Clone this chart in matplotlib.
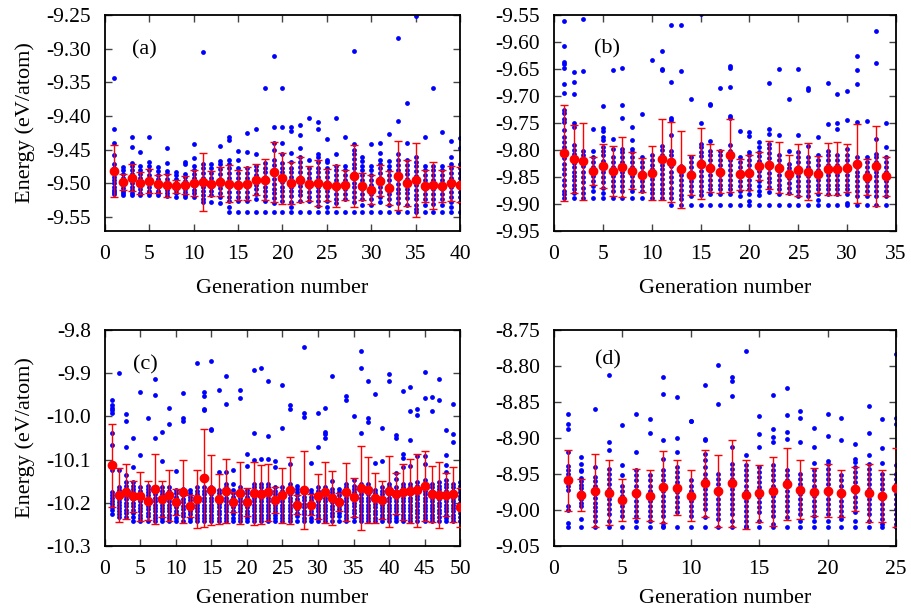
import matplotlib
matplotlib.use("Agg")
import matplotlib.pyplot as plt
from matplotlib.ticker import FormatStrFormatter

plt.rcParams['font.family'] = ['Liberation Serif', 'DejaVu Serif']
plt.rcParams['axes.unicode_minus'] = False

# ---------------- Panel (a) ----------------
gens_a = list(range(1, 41))
mean_a = [-9.4815, -9.498, -9.492, -9.500, -9.497, -9.501, -9.503, -9.5045, -9.5025, -9.4995,
          -9.4985, -9.5005, -9.4975, -9.5005, -9.5025, -9.5005, -9.4945, -9.4945, -9.4835, -9.4925,
          -9.500, -9.4945, -9.5005, -9.500, -9.503, -9.5045, -9.503, -9.489, -9.5045, -9.5095,
          -9.4965, -9.5075, -9.4885, -9.500, -9.4955, -9.5045, -9.503, -9.5045, -9.500, -9.502]
err_a = [0.039, 0.012, 0.020, 0.016, 0.018, 0.013, 0.017, 0.010, 0.014, 0.019,
         0.043, 0.018, 0.022, 0.027, 0.022, 0.025, 0.023, 0.031, 0.045, 0.038,
         0.031, 0.033, 0.026, 0.034, 0.024, 0.031, 0.022, 0.046, 0.020, 0.022,
         0.023, 0.025, 0.051, 0.034, 0.055, 0.024, 0.035, 0.024, 0.026, 0.026]
energies_a = [
    [-9.343, -9.420, -9.440, -9.458, -9.472, -9.478, -9.484, -9.490, -9.495, -9.500, -9.505, -9.510, -9.513, -9.516],
    [-9.476, -9.481, -9.487, -9.492, -9.497, -9.502, -9.507, -9.512, -9.515, -9.517],
    [-9.431, -9.446, -9.470, -9.475, -9.481, -9.487, -9.493, -9.499, -9.505, -9.510, -9.514, -9.517],
    [-9.453, -9.475, -9.480, -9.486, -9.492, -9.498, -9.504, -9.509, -9.514, -9.517],
    [-9.432, -9.469, -9.475, -9.481, -9.488, -9.494, -9.500, -9.506, -9.511, -9.515, -9.517],
    [-9.476, -9.482, -9.488, -9.494, -9.500, -9.506, -9.511, -9.515, -9.517],
    [-9.447, -9.470, -9.482, -9.487, -9.493, -9.499, -9.505, -9.510, -9.515, -9.519],
    [-9.483, -9.488, -9.494, -9.500, -9.505, -9.510, -9.515, -9.520],
    [-9.469, -9.471, -9.486, -9.491, -9.497, -9.503, -9.508, -9.513, -9.517, -9.520],
    [-9.441, -9.462, -9.475, -9.480, -9.486, -9.492, -9.498, -9.504, -9.510, -9.515, -9.520],
    [-9.305, -9.472, -9.478, -9.485, -9.492, -9.499, -9.506, -9.512, -9.518, -9.523, -9.528],
    [-9.472, -9.478, -9.485, -9.492, -9.499, -9.506, -9.512, -9.518, -9.528],
    [-9.444, -9.467, -9.472, -9.479, -9.486, -9.493, -9.500, -9.507, -9.514, -9.520, -9.529],
    [-9.431, -9.436, -9.465, -9.471, -9.478, -9.485, -9.492, -9.499, -9.506, -9.513, -9.520, -9.527, -9.535, -9.542],
    [-9.452, -9.466, -9.478, -9.485, -9.492, -9.499, -9.506, -9.513, -9.520, -9.527, -9.542],
    [-9.426, -9.453, -9.478, -9.485, -9.492, -9.499, -9.506, -9.513, -9.520, -9.526, -9.542],
    [-9.420, -9.456, -9.474, -9.481, -9.488, -9.495, -9.502, -9.509, -9.516, -9.523, -9.542],
    [-9.359, -9.470, -9.477, -9.484, -9.491, -9.498, -9.505, -9.512, -9.519, -9.526, -9.542],
    [-9.311, -9.416, -9.440, -9.450, -9.466, -9.473, -9.480, -9.487, -9.494, -9.501, -9.508, -9.515, -9.522, -9.530, -9.542],
    [-9.359, -9.417, -9.440, -9.456, -9.470, -9.477, -9.484, -9.491, -9.498, -9.505, -9.512, -9.519, -9.527, -9.542],
    [-9.416, -9.422, -9.455, -9.469, -9.477, -9.484, -9.491, -9.498, -9.505, -9.512, -9.519, -9.528, -9.536, -9.542],
    [-9.413, -9.429, -9.448, -9.461, -9.469, -9.476, -9.483, -9.490, -9.497, -9.504, -9.511, -9.518, -9.526, -9.542],
    [-9.403, -9.466, -9.478, -9.485, -9.492, -9.499, -9.506, -9.513, -9.520, -9.527, -9.542],
    [-9.409, -9.420, -9.457, -9.461, -9.469, -9.477, -9.484, -9.491, -9.498, -9.505, -9.512, -9.519, -9.526, -9.534, -9.542],
    [-9.434, -9.466, -9.469, -9.477, -9.484, -9.491, -9.498, -9.505, -9.512, -9.519, -9.527, -9.535, -9.542],
    [-9.403, -9.457, -9.474, -9.481, -9.488, -9.495, -9.502, -9.509, -9.516, -9.523, -9.530, -9.542],
    [-9.432, -9.474, -9.481, -9.488, -9.495, -9.502, -9.509, -9.516, -9.524, -9.542],
    [-9.304, -9.442, -9.450, -9.457, -9.464, -9.471, -9.478, -9.485, -9.492, -9.499, -9.506, -9.513, -9.520, -9.528, -9.542],
    [-9.461, -9.467, -9.474, -9.481, -9.488, -9.495, -9.502, -9.509, -9.516, -9.524, -9.533, -9.542],
    [-9.442, -9.474, -9.481, -9.488, -9.495, -9.502, -9.509, -9.516, -9.523, -9.532, -9.542],
    [-9.440, -9.455, -9.466, -9.471, -9.478, -9.485, -9.492, -9.499, -9.506, -9.513, -9.520, -9.528, -9.542],
    [-9.427, -9.467, -9.474, -9.481, -9.488, -9.495, -9.502, -9.509, -9.516, -9.523, -9.532, -9.542],
    [-9.284, -9.408, -9.457, -9.466, -9.473, -9.480, -9.487, -9.494, -9.501, -9.508, -9.515, -9.522, -9.530, -9.542],
    [-9.381, -9.440, -9.466, -9.473, -9.480, -9.487, -9.494, -9.501, -9.508, -9.515, -9.522, -9.532, -9.542],
    [-9.252, -9.461, -9.468, -9.475, -9.482, -9.489, -9.496, -9.503, -9.510, -9.517, -9.524, -9.532, -9.538, -9.542],
    [-9.431, -9.474, -9.481, -9.488, -9.495, -9.502, -9.509, -9.516, -9.524, -9.533, -9.542],
    [-9.359, -9.474, -9.481, -9.488, -9.495, -9.502, -9.509, -9.516, -9.523, -9.531, -9.542],
    [-9.424, -9.474, -9.481, -9.488, -9.495, -9.502, -9.509, -9.516, -9.523, -9.532, -9.542],
    [-9.437, -9.461, -9.471, -9.478, -9.485, -9.492, -9.499, -9.506, -9.513, -9.520, -9.528, -9.536, -9.542],
    [-9.433, -9.448, -9.471, -9.478, -9.485, -9.492, -9.499, -9.506, -9.513, -9.520, -9.528, -9.542],
]

# ---------------- Panel (b) ----------------
gens_b = list(range(1, 35))
mean_b = [-9.806, -9.816, -9.821, -9.839, -9.829, -9.839, -9.831, -9.838, -9.846, -9.842,
          -9.817, -9.822, -9.836, -9.846, -9.825, -9.833, -9.840, -9.810, -9.845, -9.842,
          -9.830, -9.828, -9.833, -9.845, -9.837, -9.840, -9.845, -9.835, -9.835, -9.833,
          -9.825, -9.850, -9.830, -9.849]
err_b = [0.089, 0.063, 0.071, 0.026, 0.041, 0.047, 0.056, 0.034, 0.031, 0.050,
         0.075, 0.074, 0.071, 0.037, 0.065, 0.045, 0.040, 0.068, 0.029, 0.032,
         0.026, 0.045, 0.047, 0.036, 0.048, 0.053, 0.034, 0.048, 0.049, 0.045,
         0.073, 0.033, 0.074, 0.036]
energies_b = [
    [-9.561, -9.608, -9.637, -9.640, -9.649, -9.678, -9.694, -9.726, -9.732, -9.742, -9.748, -9.763, -9.776, -9.785, -9.795, -9.805, -9.815, -9.825, -9.835, -9.845, -9.855, -9.865, -9.875, -9.882, -9.889],
    [-9.655, -9.674, -9.697, -9.750, -9.757, -9.790, -9.800, -9.808, -9.816, -9.824, -9.832, -9.840, -9.848, -9.856, -9.864, -9.872, -9.880, -9.889],
    [-9.558, -9.653, -9.802, -9.810, -9.820, -9.830, -9.840, -9.850, -9.860, -9.870, -9.880, -9.889],
    [-9.762, -9.801, -9.813, -9.822, -9.831, -9.840, -9.849, -9.858, -9.867, -9.876, -9.889],
    [-9.719, -9.759, -9.765, -9.775, -9.781, -9.795, -9.801, -9.810, -9.820, -9.830, -9.840, -9.850, -9.860, -9.870, -9.880, -9.889],
    [-9.652, -9.779, -9.798, -9.813, -9.822, -9.831, -9.840, -9.849, -9.858, -9.867, -9.876, -9.889],
    [-9.648, -9.716, -9.740, -9.798, -9.804, -9.813, -9.822, -9.831, -9.840, -9.849, -9.858, -9.867, -9.876, -9.889],
    [-9.757, -9.782, -9.798, -9.804, -9.813, -9.822, -9.831, -9.840, -9.849, -9.858, -9.867, -9.876, -9.889],
    [-9.733, -9.813, -9.822, -9.831, -9.840, -9.849, -9.858, -9.867, -9.876, -9.889],
    [-9.634, -9.810, -9.818, -9.827, -9.836, -9.845, -9.854, -9.863, -9.872, -9.880, -9.889],
    [-9.616, -9.650, -9.652, -9.793, -9.800, -9.809, -9.818, -9.827, -9.836, -9.845, -9.854, -9.863, -9.872, -9.880, -9.889],
    [-9.568, -9.674, -9.741, -9.744, -9.773, -9.801, -9.810, -9.820, -9.830, -9.840, -9.850, -9.860, -9.870, -9.880, -9.889, -9.901],
    [-9.568, -9.653, -9.829, -9.838, -9.847, -9.856, -9.865, -9.874, -9.883, -9.890, -9.901],
    [-9.705, -9.813, -9.822, -9.831, -9.840, -9.849, -9.858, -9.867, -9.876, -9.885, -9.901],
    [-9.549, -9.750, -9.788, -9.794, -9.803, -9.812, -9.821, -9.830, -9.839, -9.848, -9.857, -9.866, -9.875, -9.884, -9.901],
    [-9.714, -9.716, -9.783, -9.801, -9.810, -9.819, -9.828, -9.837, -9.846, -9.855, -9.864, -9.873, -9.882, -9.901],
    [-9.686, -9.801, -9.810, -9.819, -9.828, -9.837, -9.846, -9.855, -9.864, -9.873, -9.882, -9.901],
    [-9.645, -9.648, -9.683, -9.737, -9.740, -9.791, -9.801, -9.810, -9.819, -9.828, -9.837, -9.846, -9.855, -9.864, -9.873, -9.882, -9.901],
    [-9.765, -9.813, -9.822, -9.831, -9.840, -9.849, -9.858, -9.867, -9.876, -9.885, -9.901],
    [-9.767, -9.774, -9.804, -9.810, -9.819, -9.828, -9.837, -9.846, -9.855, -9.864, -9.873, -9.882, -9.895, -9.901],
    [-9.785, -9.794, -9.803, -9.812, -9.821, -9.830, -9.839, -9.848, -9.857, -9.866, -9.875, -9.884, -9.901],
    [-9.676, -9.762, -9.771, -9.788, -9.797, -9.806, -9.815, -9.824, -9.833, -9.842, -9.851, -9.860, -9.869, -9.878, -9.901],
    [-9.650, -9.773, -9.810, -9.819, -9.828, -9.837, -9.846, -9.855, -9.864, -9.873, -9.882, -9.901],
    [-9.705, -9.801, -9.825, -9.834, -9.843, -9.852, -9.861, -9.870, -9.879, -9.901],
    [-9.650, -9.772, -9.804, -9.813, -9.822, -9.831, -9.840, -9.849, -9.858, -9.867, -9.876, -9.885, -9.901],
    [-9.685, -9.688, -9.792, -9.813, -9.822, -9.831, -9.840, -9.849, -9.858, -9.867, -9.876, -9.885, -9.901],
    [-9.776, -9.810, -9.819, -9.828, -9.837, -9.846, -9.855, -9.864, -9.873, -9.882, -9.892, -9.901],
    [-9.675, -9.751, -9.801, -9.810, -9.819, -9.828, -9.837, -9.846, -9.855, -9.864, -9.873, -9.882, -9.901],
    [-9.696, -9.750, -9.762, -9.810, -9.819, -9.828, -9.837, -9.846, -9.855, -9.864, -9.873, -9.882, -9.901],
    [-9.691, -9.744, -9.798, -9.810, -9.819, -9.828, -9.837, -9.846, -9.855, -9.864, -9.873, -9.882, -9.899, -9.901],
    [-9.626, -9.652, -9.678, -9.748, -9.813, -9.822, -9.831, -9.840, -9.849, -9.858, -9.867, -9.876, -9.885, -9.901],
    [-9.746, -9.813, -9.822, -9.831, -9.840, -9.849, -9.858, -9.867, -9.876, -9.885, -9.901],
    [-9.579, -9.639, -9.779, -9.807, -9.813, -9.822, -9.831, -9.840, -9.849, -9.858, -9.867, -9.876, -9.885, -9.901],
    [-9.750, -9.794, -9.813, -9.822, -9.831, -9.840, -9.849, -9.858, -9.867, -9.876, -9.885, -9.901],
]

# ---------------- Panel (c) ----------------
gens_c = list(range(1, 51))
mean_c = [-10.113, -10.182, -10.174, -10.185, -10.185, -10.195, -10.169, -10.191, -10.183, -10.198,
          -10.174, -10.207, -10.191, -10.142, -10.171, -10.191, -10.173, -10.198, -10.178, -10.198,
          -10.178, -10.180, -10.176, -10.193, -10.183, -10.171, -10.205, -10.171, -10.204, -10.185,
          -10.176, -10.189, -10.198, -10.174, -10.187, -10.166, -10.171, -10.189, -10.194, -10.173,
          -10.179, -10.175, -10.172, -10.171, -10.161, -10.179, -10.182, -10.181, -10.180, -10.210]
err_c = [0.096, 0.062, 0.063, 0.036, 0.056, 0.045, 0.081, 0.041, 0.058, 0.031,
         0.072, 0.026, 0.068, 0.114, 0.081, 0.057, 0.074, 0.024, 0.072, 0.032,
         0.073, 0.068, 0.066, 0.030, 0.064, 0.077, 0.022, 0.090, 0.025, 0.052,
         0.071, 0.062, 0.021, 0.067, 0.045, 0.097, 0.076, 0.058, 0.044, 0.082,
         0.048, 0.065, 0.074, 0.084, 0.080, 0.065, 0.077, 0.050, 0.064, 0.045]
energies_c = [
    [-9.962, -9.974, -9.980, -9.986, -9.992, -10.038, -10.067, -10.124, -10.175, -10.182, -10.189, -10.196, -10.203, -10.210, -10.217, -10.227],
    [-9.900, -10.124, -10.164, -10.171, -10.178, -10.185, -10.192, -10.199, -10.206, -10.213, -10.220, -10.227, -10.233],
    [-9.995, -10.010, -10.071, -10.135, -10.152, -10.160, -10.168, -10.176, -10.184, -10.192, -10.200, -10.208, -10.216, -10.224, -10.233],
    [-10.049, -10.116, -10.152, -10.160, -10.168, -10.176, -10.184, -10.192, -10.200, -10.208, -10.216, -10.224, -10.232, -10.241],
    [-9.944, -10.090, -10.164, -10.172, -10.180, -10.188, -10.196, -10.204, -10.212, -10.220, -10.228, -10.234, -10.241],
    [-10.003, -10.160, -10.167, -10.175, -10.183, -10.191, -10.199, -10.207, -10.215, -10.223, -10.231, -10.241],
    [-9.913, -9.950, -10.050, -10.164, -10.172, -10.180, -10.188, -10.196, -10.204, -10.212, -10.220, -10.228, -10.235, -10.241],
    [-10.037, -10.103, -10.164, -10.172, -10.180, -10.188, -10.196, -10.204, -10.212, -10.220, -10.228, -10.235, -10.241],
    [-9.981, -10.018, -10.164, -10.172, -10.180, -10.188, -10.196, -10.204, -10.212, -10.220, -10.228, -10.235, -10.241],
    [-10.127, -10.171, -10.178, -10.186, -10.194, -10.202, -10.210, -10.218, -10.226, -10.234, -10.241],
    [-9.946, -10.004, -10.010, -10.167, -10.175, -10.183, -10.191, -10.199, -10.207, -10.215, -10.223, -10.231, -10.241],
    [-10.171, -10.178, -10.186, -10.194, -10.202, -10.210, -10.218, -10.226, -10.234, -10.241],
    [-9.876, -10.164, -10.172, -10.180, -10.188, -10.196, -10.204, -10.212, -10.220, -10.228, -10.235, -10.241],
    [-9.943, -9.953, -9.983, -9.986, -10.164, -10.172, -10.180, -10.188, -10.196, -10.204, -10.212, -10.220, -10.228, -10.235, -10.241],
    [-9.872, -10.028, -10.032, -10.164, -10.172, -10.180, -10.188, -10.196, -10.204, -10.212, -10.220, -10.228, -10.235, -10.241],
    [-9.939, -10.129, -10.171, -10.178, -10.186, -10.194, -10.202, -10.210, -10.218, -10.226, -10.234, -10.241],
    [-9.907, -9.972, -10.129, -10.156, -10.164, -10.172, -10.180, -10.188, -10.196, -10.204, -10.212, -10.220, -10.228, -10.235, -10.241],
    [-10.125, -10.156, -10.171, -10.178, -10.186, -10.194, -10.202, -10.210, -10.218, -10.226, -10.234, -10.241],
    [-9.939, -9.957, -10.164, -10.172, -10.180, -10.188, -10.196, -10.204, -10.212, -10.220, -10.228, -10.235, -10.241],
    [-10.086, -10.114, -10.171, -10.178, -10.186, -10.194, -10.202, -10.210, -10.218, -10.226, -10.234, -10.241],
    [-9.893, -10.038, -10.100, -10.156, -10.164, -10.172, -10.180, -10.188, -10.196, -10.204, -10.212, -10.220, -10.228, -10.235, -10.241],
    [-9.887, -10.098, -10.156, -10.164, -10.172, -10.180, -10.188, -10.196, -10.204, -10.212, -10.220, -10.228, -10.235, -10.241],
    [-9.917, -10.046, -10.099, -10.156, -10.164, -10.172, -10.180, -10.188, -10.196, -10.204, -10.212, -10.220, -10.228, -10.235, -10.241],
    [-10.104, -10.118, -10.164, -10.172, -10.180, -10.188, -10.196, -10.204, -10.212, -10.220, -10.228, -10.235, -10.241],
    [-9.928, -10.027, -10.164, -10.172, -10.180, -10.188, -10.196, -10.204, -10.212, -10.220, -10.228, -10.235, -10.241],
    [-9.974, -9.983, -10.111, -10.156, -10.164, -10.172, -10.180, -10.188, -10.196, -10.204, -10.212, -10.220, -10.228, -10.235, -10.241],
    [-10.160, -10.167, -10.175, -10.183, -10.191, -10.199, -10.207, -10.215, -10.223, -10.231, -10.241],
    [-9.839, -9.993, -10.002, -10.171, -10.178, -10.186, -10.194, -10.202, -10.210, -10.218, -10.226, -10.234, -10.241],
    [-10.108, -10.171, -10.178, -10.186, -10.194, -10.202, -10.210, -10.218, -10.226, -10.234, -10.241],
    [-9.992, -10.071, -10.164, -10.172, -10.180, -10.188, -10.196, -10.204, -10.212, -10.220, -10.228, -10.235, -10.241],
    [-9.980, -10.035, -10.041, -10.049, -10.164, -10.172, -10.180, -10.188, -10.196, -10.204, -10.212, -10.220, -10.228, -10.235, -10.241],
    [-9.907, -10.150, -10.167, -10.175, -10.183, -10.191, -10.199, -10.207, -10.215, -10.223, -10.231, -10.241],
    [-10.167, -10.175, -10.183, -10.191, -10.199, -10.207, -10.215, -10.223, -10.231, -10.241],
    [-9.953, -9.962, -10.156, -10.164, -10.172, -10.180, -10.188, -10.196, -10.204, -10.212, -10.220, -10.228, -10.235, -10.241],
    [-9.999, -10.148, -10.160, -10.168, -10.176, -10.184, -10.192, -10.200, -10.208, -10.216, -10.224, -10.232, -10.241],
    [-9.848, -9.887, -10.038, -10.156, -10.164, -10.172, -10.180, -10.188, -10.196, -10.204, -10.212, -10.220, -10.228, -10.235, -10.241],
    [-9.917, -10.004, -10.014, -10.156, -10.164, -10.172, -10.180, -10.188, -10.196, -10.204, -10.212, -10.220, -10.228, -10.235, -10.241],
    [-9.948, -10.108, -10.171, -10.178, -10.186, -10.194, -10.202, -10.210, -10.218, -10.226, -10.234, -10.241],
    [-10.027, -10.104, -10.164, -10.172, -10.180, -10.188, -10.196, -10.204, -10.212, -10.220, -10.228, -10.235, -10.241],
    [-9.903, -9.919, -10.156, -10.164, -10.172, -10.180, -10.188, -10.196, -10.204, -10.212, -10.220, -10.228, -10.235, -10.241],
    [-10.042, -10.049, -10.130, -10.145, -10.164, -10.172, -10.180, -10.188, -10.196, -10.204, -10.212, -10.220, -10.228, -10.235, -10.241],
    [-9.941, -10.087, -10.096, -10.117, -10.156, -10.164, -10.172, -10.180, -10.188, -10.196, -10.204, -10.212, -10.220, -10.228, -10.235, -10.241],
    [-9.931, -9.988, -10.054, -10.114, -10.156, -10.164, -10.172, -10.180, -10.188, -10.196, -10.204, -10.212, -10.220, -10.228, -10.235, -10.241],
    [-9.982, -9.996, -10.092, -10.152, -10.160, -10.168, -10.176, -10.184, -10.192, -10.200, -10.208, -10.216, -10.224, -10.232, -10.241],
    [-9.898, -9.958, -10.092, -10.110, -10.148, -10.156, -10.164, -10.172, -10.180, -10.188, -10.196, -10.204, -10.212, -10.220, -10.228, -10.235, -10.241],
    [-9.956, -9.987, -10.156, -10.164, -10.172, -10.180, -10.188, -10.196, -10.204, -10.212, -10.220, -10.228, -10.235, -10.241],
    [-9.914, -9.961, -10.152, -10.160, -10.168, -10.176, -10.184, -10.192, -10.200, -10.208, -10.216, -10.224, -10.232, -10.241],
    [-10.032, -10.089, -10.113, -10.128, -10.148, -10.156, -10.164, -10.172, -10.180, -10.188, -10.196, -10.204, -10.212, -10.220, -10.228, -10.235, -10.241],
    [-9.972, -10.040, -10.059, -10.156, -10.164, -10.172, -10.180, -10.188, -10.196, -10.204, -10.212, -10.220, -10.228, -10.235, -10.241],
    [-10.152, -10.160, -10.168, -10.176, -10.184, -10.192, -10.200, -10.208, -10.216, -10.224, -10.232, -10.241],
]

# ---------------- Panel (d) ----------------
gens_d = list(range(1, 26))
mean_d = [-8.959, -8.979, -8.973, -8.976, -8.986, -8.977, -8.980, -8.968, -8.969, -8.980,
          -8.963, -8.973, -8.963, -8.979, -8.977, -8.974, -8.964, -8.972, -8.975, -8.973,
          -8.977, -8.971, -8.976, -8.981, -8.969]
err_d = [0.043, 0.022, 0.051, 0.045, 0.029, 0.034, 0.035, 0.050, 0.038, 0.035,
         0.046, 0.050, 0.060, 0.048, 0.040, 0.048, 0.050, 0.041, 0.033, 0.037,
         0.032, 0.031, 0.040, 0.036, 0.055]
energies_d = [
    [-8.867, -8.880, -8.887, -8.920, -8.939, -8.945, -8.950, -8.960, -8.966, -8.972, -8.995, -9.000, -9.018, -9.024],
    [-8.927, -8.936, -8.944, -8.946, -8.955, -8.960, -8.965, -8.970, -8.975, -8.980, -8.985, -8.990, -8.995, -9.012, -9.024],
    [-8.860, -8.940, -8.954, -8.960, -8.966, -8.972, -8.978, -8.984, -8.990, -8.996, -9.002, -9.008, -9.015, -9.024],
    [-8.813, -8.906, -8.917, -8.943, -8.950, -8.957, -8.964, -8.971, -8.978, -8.985, -8.992, -8.999, -9.006, -9.015, -9.024],
    [-8.882, -8.937, -8.952, -8.966, -8.973, -8.980, -8.987, -8.994, -9.001, -9.008, -9.024],
    [-8.867, -8.919, -8.945, -8.952, -8.959, -8.966, -8.973, -8.980, -8.987, -8.994, -9.001, -9.008, -9.015, -9.024],
    [-8.873, -8.893, -8.952, -8.959, -8.966, -8.973, -8.980, -8.987, -8.994, -9.001, -9.008, -9.015, -9.024],
    [-8.815, -8.839, -8.903, -8.929, -8.945, -8.952, -8.959, -8.966, -8.973, -8.980, -8.987, -8.994, -9.001, -9.008, -9.018, -9.022, -9.024],
    [-8.843, -8.900, -8.920, -8.940, -8.947, -8.954, -8.961, -8.968, -8.975, -8.982, -8.989, -8.996, -9.003, -9.024],
    [-8.876, -8.877, -8.959, -8.966, -8.973, -8.980, -8.987, -8.994, -9.001, -9.008, -9.024],
    [-8.826, -8.901, -8.903, -8.922, -8.930, -8.940, -8.950, -8.957, -8.964, -8.971, -8.978, -8.985, -8.992, -8.999, -9.010, -9.024],
    [-8.799, -8.853, -8.950, -8.957, -8.964, -8.971, -8.978, -8.985, -8.992, -8.999, -9.006, -9.013, -9.024],
    [-8.815, -8.821, -8.842, -8.913, -8.936, -8.943, -8.950, -8.957, -8.964, -8.971, -8.978, -8.985, -8.992, -8.999, -9.006, -9.015, -9.024],
    [-8.779, -8.923, -8.938, -8.945, -8.952, -8.959, -8.966, -8.973, -8.980, -8.987, -8.994, -9.001, -9.008, -9.015, -9.022, -9.024],
    [-8.869, -8.894, -8.912, -8.940, -8.947, -8.954, -8.961, -8.968, -8.975, -8.982, -8.989, -8.996, -9.003, -9.015, -9.024],
    [-8.840, -8.888, -8.898, -8.906, -8.938, -8.945, -8.952, -8.959, -8.966, -8.973, -8.980, -8.987, -8.994, -9.001, -9.008, -9.020, -9.024],
    [-8.830, -8.868, -8.891, -8.901, -8.945, -8.952, -8.959, -8.966, -8.973, -8.980, -8.987, -8.994, -9.001, -9.010, -9.024],
    [-8.863, -8.872, -8.905, -8.950, -8.957, -8.964, -8.971, -8.978, -8.985, -8.992, -8.999, -9.006, -9.015, -9.024],
    [-8.886, -8.912, -8.935, -8.945, -8.952, -8.959, -8.966, -8.973, -8.980, -8.987, -8.994, -9.001, -9.008, -9.015, -9.024],
    [-8.867, -8.897, -8.932, -8.936, -8.943, -8.950, -8.957, -8.964, -8.971, -8.978, -8.985, -8.992, -8.999, -9.006, -9.015, -9.024],
    [-8.872, -8.903, -8.952, -8.959, -8.966, -8.973, -8.980, -8.987, -8.994, -9.001, -9.008, -9.013, -9.024],
    [-8.909, -8.929, -8.933, -8.940, -8.947, -8.954, -8.961, -8.968, -8.975, -8.982, -8.989, -8.996, -9.003, -9.015, -9.024],
    [-8.856, -8.893, -8.923, -8.936, -8.943, -8.950, -8.957, -8.964, -8.971, -8.978, -8.985, -8.992, -8.999, -9.006, -9.015, -9.024],
    [-8.874, -8.914, -8.935, -8.950, -8.957, -8.964, -8.971, -8.978, -8.985, -8.992, -8.999, -9.006, -9.013, -9.020, -9.024],
    [-8.784, -8.872, -8.880, -8.938, -8.950, -8.957, -8.964, -8.971, -8.978, -8.985, -8.992, -8.999, -9.006, -9.013, -9.020, -9.024],
]

panel_labels = ['(a)', '(b)', '(c)', '(d)']
x_label = 'Generation number'
y_label = 'Energy (eV/atom)'

FS_TICK = 15.5
FS_LAB = 16
fig = plt.figure(figsize=(9.12, 6.12), dpi=100)

specs = [
    ([0.1151, 0.6225, 0.3893, 0.3530], gens_a, mean_a, err_a, energies_a, (0, 40), (-9.571, -9.25),
     [-9.25, -9.30, -9.35, -9.40, -9.45, -9.50, -9.55], '%.2f', (0.076, 0.838), True, 11),
    ([0.6075, 0.6225, 0.3750, 0.3530], gens_b, mean_b, err_b, energies_b, (0, 35), (-9.95, -9.55),
     [-9.55, -9.60, -9.65, -9.70, -9.75, -9.80, -9.85, -9.90, -9.95], '%.2f', (0.117, 0.843), False, 11),
    ([0.1151, 0.1078, 0.3893, 0.3530], gens_c, mean_c, err_c, energies_c, (0, 50), (-10.3, -9.8),
     [-9.8, -9.9, -10.0, -10.1, -10.2, -10.3], '%.1f', (0.079, 0.838), True, 7),
    ([0.6075, 0.1078, 0.3750, 0.3530], gens_d, mean_d, err_d, energies_d, (0, 25), (-9.05, -8.75),
     [-8.75, -8.80, -8.85, -8.90, -8.95, -9.00, -9.05], '%.2f', (0.12, 0.861), False, 7),
]

for i, (rect, gens, mean, err, energies, xlim, ylim, yticks, fmt, lpos, ylab, xlpad) in enumerate(specs):
    ax = fig.add_axes(rect)
    xs, ys = [], []
    for g, vals in zip(gens, energies):
        xs.extend([g] * len(vals))
        ys.extend(vals)
    ax.scatter(xs, ys, s=12, color='#0000ff', linewidths=0, zorder=2)
    ax.errorbar(gens, mean, yerr=err, fmt='o', color='#ff0000', ecolor='#ff0000',
                markersize=6, elinewidth=1.0, capsize=3, capthick=1.0, zorder=3)
    ax.set_xlim(*xlim)
    ax.set_ylim(*ylim)
    ax.set_xticks(list(range(xlim[0], xlim[1] + 1, 5)))
    ax.set_yticks(yticks)
    ax.yaxis.set_major_formatter(FormatStrFormatter(fmt))
    ax.tick_params(direction='in', top=True, right=True, length=5, width=1,
                   color='#444444', labelsize=FS_TICK)
    ax.tick_params(axis='x', pad=10)
    ax.tick_params(axis='y', pad=10)
    for sp in ax.spines.values():
        sp.set_linewidth(1.3)
    ax.set_xlabel(x_label, fontsize=FS_LAB, labelpad=xlpad)
    if ylab:
        ax.set_ylabel(y_label, fontsize=FS_LAB, labelpad=8)
    ax.text(lpos[0], lpos[1], panel_labels[i], transform=ax.transAxes, fontsize=FS_LAB,
            ha='left', va='center', zorder=5)

fig.savefig('out.png', dpi=100)
